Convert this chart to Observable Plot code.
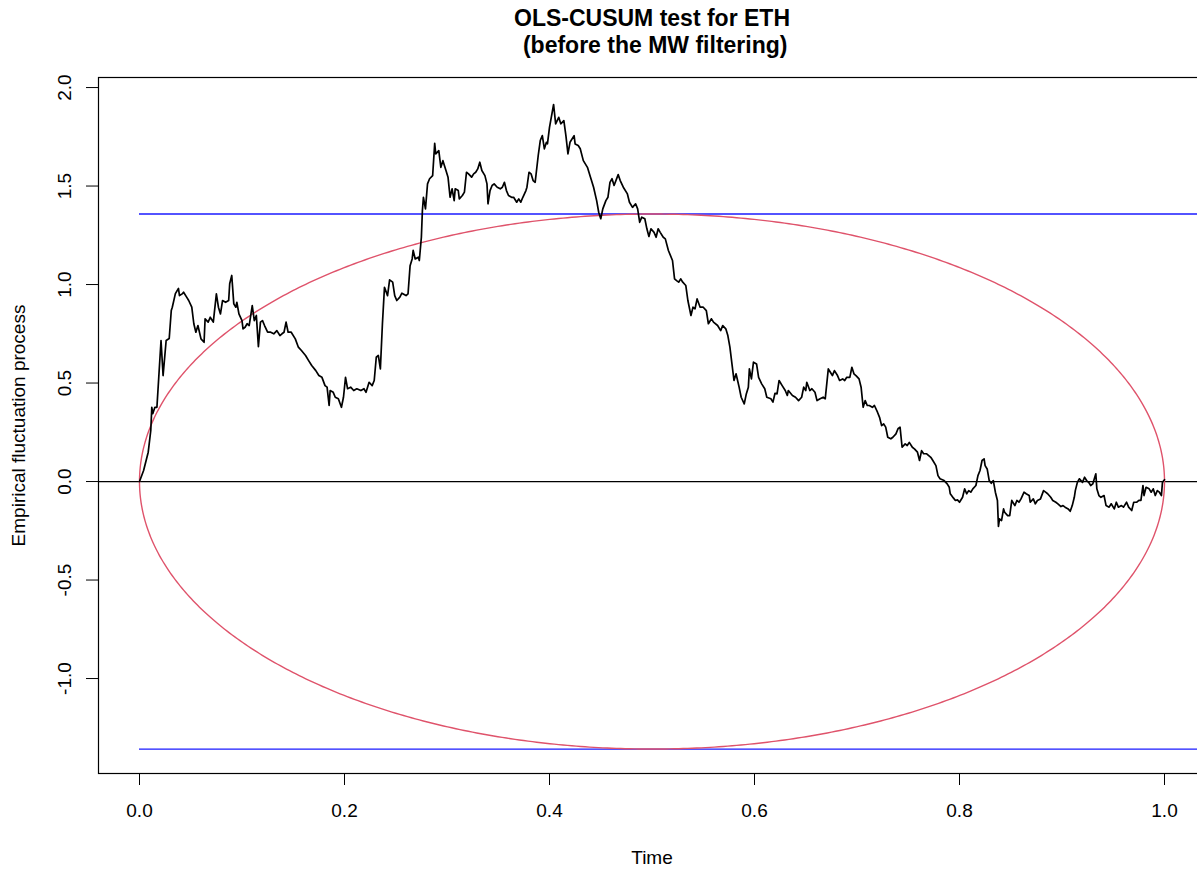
<!DOCTYPE html>
<html><head><meta charset="utf-8">
<script src="https://cdn.jsdelivr.net/npm/d3@7"></script>
<script src="https://cdn.jsdelivr.net/npm/@observablehq/plot@0.6"></script>
<style>body{margin:0;background:#fff;overflow:hidden}</style>
</head><body><div id="chart"></div>
<script>
const titleLine1 = "OLS-CUSUM test for ETH";
const titleLine2 = " (before the MW filtering)";
const xLabel = "Time";
const yLabel = "Empirical fluctuation process";
const xTicks = [0, 0.2, 0.4, 0.6, 0.8, 1.0];
const yTicks = [-1.0, -0.5, 0.0, 0.5, 1.0, 1.5, 2.0];
const boundary = 1.358;

const time = [
0,0.004,0.0085,0.011,0.012,0.013,0.015,0.017,0.021,0.023,
0.026,0.029,0.031,0.032,0.035,0.038,0.039,0.042,0.043,0.046,
0.048,0.051,0.053,0.055,0.057,0.060,0.063,0.064,0.067,0.069,
0.072,0.075,0.077,0.079,0.081,0.084,0.087,0.088,0.090,0.092,
0.094,0.095,0.097,0.100,0.101,0.103,0.105,0.107,0.110,0.112,
0.114,0.116,0.118,0.120,0.122,0.125,0.128,0.131,0.134,0.137,
0.139,0.141,0.143,0.145,0.148,0.152,0.155,0.158,0.162,0.165,
0.168,0.172,0.175,0.178,0.181,0.183,0.185,0.186,0.189,0.191,
0.194,0.197,0.199,0.201,
0.203,0.206,0.209,0.212,0.216,0.219,0.221,0.224,0.227,0.229,
0.231,0.233,0.235,0.237,0.239,0.242,0.244,0.247,0.249,0.251,
0.254,0.256,0.260,0.262,0.264,0.266,0.267,0.269,0.272,0.273,
0.275,0.276,0.277,0.279,0.281,0.283,0.286,0.288,0.289,0.292,
0.294,0.296,0.299,0.301,0.303,0.305,0.307,0.308,0.311,0.312,
0.315,0.317,0.319,0.321,0.324,0.326,0.328,0.330,0.332,0.334,
0.337,0.339,0.340,0.342,0.344,0.346,0.349,0.352,0.354,0.356,
0.358,0.360,0.363,0.365,0.368,0.370,0.372,0.374,0.377,0.378,
0.380,0.382,0.384,0.386,0.389,0.391,0.393,0.395,0.397,0.398,
0.400,0.404,0.406,0.409,0.411,0.414,0.416,0.418,0.420,0.424,
0.425,0.428,0.430,0.433,0.437,0.440,0.443,0.446,0.448,0.450,
0.452,0.455,0.457,0.459,0.461,0.463,0.467,0.469,0.472,0.476,
0.478,0.481,0.484,0.486,0.488,
0.490,0.493,0.495,0.497,0.499,0.502,0.504,0.506,0.508,0.511,
0.513,0.516,0.520,0.522,0.524,0.526,0.528,0.530,0.533,0.535,
0.538,0.540,0.542,0.544,0.547,0.550,0.553,0.555,0.558,0.560,
0.564,0.567,0.569,0.572,0.574,0.576,0.578,0.580,0.582,0.585,
0.587,0.590,0.592,0.594,0.595,0.597,0.599,0.602,0.604,0.607,
0.610,0.612,0.616,0.618,0.620,0.622,0.624,0.627,0.630,0.632,
0.633,0.637,0.640,0.643,0.646,0.648,0.650,0.651,0.654,0.656,
0.659,0.661,0.664,0.667,0.669,0.672,0.674,0.676,0.678,0.681,
0.683,0.686,0.688,0.690,0.693,0.695,0.697,0.699,0.702,0.704,
0.706,0.708,0.710,0.712,0.715,0.717,0.720,0.722,0.724,0.726,
0.728,0.730,0.733,0.735,0.738,0.740,0.742,0.744,0.747,0.749,
0.751,0.754,0.756,0.759,0.761,0.763,0.765,0.768,0.772,0.774,
0.777,0.779,0.781,0.785,0.788,0.790,
0.791,0.794,0.796,0.798,0.800,0.803,0.805,0.807,0.809,0.811,
0.813,0.816,0.818,0.820,0.822,0.824,0.825,0.827,0.829,0.831,
0.833,0.835,0.837,0.838,0.839,0.841,0.843,0.844,0.847,0.849,
0.851,0.854,0.856,0.858,0.860,0.863,0.865,0.868,0.869,0.872,
0.874,0.876,0.879,0.882,0.884,0.886,0.889,0.891,0.894,0.896,
0.899,0.901,0.903,0.906,0.908,0.910,0.912,0.913,0.915,0.917,
0.920,0.922,0.924,0.926,0.928,0.930,0.933,0.934,0.936,0.938,
0.941,0.943,0.946,0.948,0.951,0.953,0.955,0.958,0.960,0.963,
0.965,0.968,0.970,0.973,0.975,0.977,0.979,0.980,0.982,0.985,
0.987,0.989,0.991,0.993,0.995,0.997,0.998,1.000
];
const fluctuation = [
0,0.056,0.149,0.259,0.377,0.345,0.377,0.377,0.716,0.538,
0.716,0.726,0.868,0.885,0.954,0.980,0.944,0.954,0.961,0.936,
0.919,0.885,0.801,0.758,0.792,0.724,0.707,0.826,0.809,0.834,
0.809,0.953,0.885,0.851,0.919,0.910,0.919,1.004,1.046,0.902,
0.885,0.910,0.851,0.817,0.775,0.783,0.801,0.792,0.893,0.817,
0.843,0.685,0.809,0.817,0.792,0.758,0.758,0.750,0.766,0.741,
0.750,0.758,0.809,0.758,0.758,0.724,0.682,0.665,0.640,0.614,
0.589,0.563,0.538,0.529,0.487,0.479,0.386,0.462,0.453,0.428,
0.420,0.377,0.428,0.529,
0.471,0.479,0.462,0.471,0.462,0.471,0.453,0.504,0.487,0.513,
0.631,0.640,0.572,0.801,0.986,0.944,1.024,1.012,0.944,0.919,
0.936,0.956,0.944,0.953,1.096,1.130,1.173,1.130,1.139,1.122,
1.240,1.376,1.443,1.384,1.511,1.537,1.553,1.717,1.663,1.680,
1.595,1.629,1.579,1.545,1.443,1.486,1.426,1.486,1.477,1.435,
1.452,1.469,1.570,1.562,1.545,1.562,1.570,1.587,1.621,1.579,
1.553,1.511,1.410,1.477,1.503,1.511,1.494,1.486,1.494,1.519,
1.477,1.452,1.443,1.443,1.418,1.435,1.418,1.443,1.477,1.494,
1.570,1.562,1.528,1.519,1.655,1.731,1.756,1.689,1.722,1.714,
1.798,1.914,1.816,1.849,1.816,1.832,1.756,1.663,1.722,1.756,
1.714,1.706,1.689,1.629,1.595,1.545,1.494,1.426,1.367,1.334,
1.384,1.426,1.443,1.519,1.537,1.503,1.558,1.528,1.494,1.460,
1.418,1.392,1.410,1.384,1.316,
1.342,1.334,1.283,1.244,1.283,1.265,1.240,1.283,1.265,1.240,
1.232,1.173,1.122,1.029,1.020,1.012,1.029,1.012,0.995,0.919,
0.843,0.885,0.877,0.927,0.885,0.885,0.868,0.801,0.826,0.809,
0.792,0.766,0.792,0.775,0.741,0.682,0.597,0.513,0.547,0.479,
0.428,0.394,0.445,0.479,0.572,0.521,0.606,0.597,0.529,0.496,
0.471,0.428,0.420,0.403,0.448,0.445,0.513,0.487,0.462,0.437,
0.462,0.437,0.428,0.411,0.428,0.479,0.462,0.504,0.462,0.471,
0.453,0.411,0.420,0.428,0.420,0.572,0.555,0.538,0.563,0.538,
0.513,0.521,0.513,0.529,0.529,0.580,0.547,0.538,0.521,0.479,
0.377,0.411,0.386,0.386,0.377,0.386,0.352,0.326,0.284,0.293,
0.276,0.225,0.217,0.225,0.242,0.268,0.276,0.174,0.191,0.183,
0.199,0.174,0.166,0.149,0.107,0.157,0.141,0.141,0.123,0.107,
0.081,0.030,0.014,0.005,-0.012,-0.029,
-0.062,-0.083,-0.096,-0.093,-0.105,-0.080,-0.037,-0.062,-0.046,-0.054,
-0.037,-0.020,0.030,0.056,0.107,0.115,0.081,0.064,0.005,-0.009,
0.005,-0.054,-0.096,-0.228,-0.189,-0.198,-0.139,-0.156,-0.173,-0.173,
-0.096,-0.122,-0.096,-0.105,-0.088,-0.054,-0.062,-0.071,-0.105,-0.088,
-0.113,-0.096,-0.088,-0.046,-0.054,-0.062,-0.080,-0.096,-0.105,-0.113,
-0.127,-0.122,-0.130,-0.139,-0.151,-0.122,-0.080,-0.046,-0.004,0.014,
-0.004,0.022,0.005,-0.004,-0.020,-0.012,0.039,-0.037,-0.071,-0.080,
-0.071,-0.122,-0.130,-0.113,-0.139,-0.105,-0.130,-0.122,-0.130,-0.105,
-0.130,-0.147,-0.105,-0.105,-0.096,-0.096,-0.020,-0.071,-0.029,-0.037,
-0.054,-0.037,-0.071,-0.046,-0.054,-0.071,-0.004,0.009
];

const n = Math.min(time.length, fluctuation.length);
const series = d3.range(n).map(i => ({t: time[i], v: fluctuation[i]}));

// Boundary ellipse through (0,0), (0.5, ±boundary), (1,0)
const ellipse = d3.range(0, 721).map(k => {
  const a = k * Math.PI / 360;
  return {t: 0.5 - 0.5 * Math.cos(a), v: boundary * Math.sin(a)};
});

const fmt = d => d.toFixed(1);
const centered = {textAnchor: "middle", lineAnchor: "middle", fill: "black"};

const chart = Plot.plot({
  width: 1197,
  height: 870,
  marginLeft: 98,
  marginRight: -8,
  marginTop: 77,
  marginBottom: 97,
  style: {fontFamily: "'Liberation Sans', Arial, Helvetica, sans-serif", fontSize: "19px", background: "#fff"},
  x: {domain: [-0.04, 1.04]},
  y: {domain: [-1.482, 2.051]},
  marks: [
    Plot.ruleY([0], {stroke: "black", strokeWidth: 1.2}),
    Plot.ruleY([boundary, -boundary], {x1: 0, x2: 1.04, stroke: "#1a1aff", strokeWidth: 1.3}),
    Plot.line(ellipse, {x: "t", y: "v", stroke: "#DF536B", strokeWidth: 1.4}),
    Plot.line(series, {x: "t", y: "v", stroke: "black", strokeWidth: 1.7}),
    Plot.frame({stroke: "black", strokeWidth: 1.2}),
    Plot.axisX(xTicks, {tickSize: 12, tickFormat: () => "", label: null, stroke: "black"}),
    Plot.axisY(yTicks, {tickSize: 12, tickFormat: () => "", label: null, stroke: "black"}),
    Plot.text(xTicks, {x: d => d, text: fmt, frameAnchor: "bottom", dy: 37, ...centered}),
    Plot.text(yTicks, {y: d => d, text: fmt, frameAnchor: "left", dx: -34, rotate: -90, ...centered}),
    Plot.text([xLabel], {frameAnchor: "bottom", dy: 84, ...centered}),
    Plot.text([yLabel], {frameAnchor: "left", dx: -80, rotate: -90, ...centered}),
    Plot.text([titleLine1], {frameAnchor: "top", dy: -59, fontWeight: "bold", fontSize: 23, ...centered}),
    Plot.text([titleLine2], {frameAnchor: "top", dy: -32, fontWeight: "bold", fontSize: 23, ...centered})
  ]
});
document.getElementById("chart").appendChild(chart);
</script></body></html>
